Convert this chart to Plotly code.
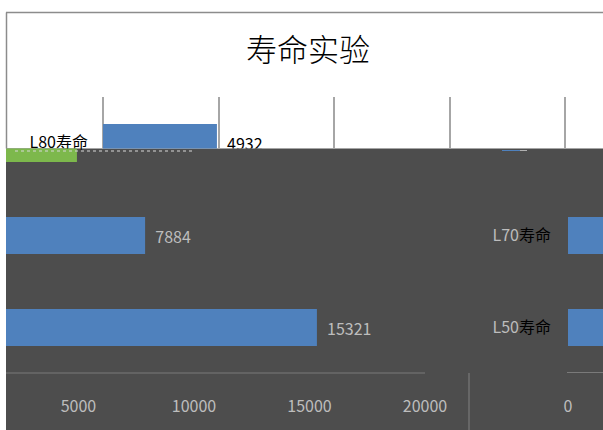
import plotly.graph_objects as go

# ---- data ----
title_text = "寿命实验"
categories = ["L80寿命", "L70寿命", "L50寿命"]
values = [4932, 7884, 15321]
tick_vals = [5000, 10000, 15000, 20000]
tick_text = ["5000", "10000", "15000", "20000"]

W, H = 603, 430
FONT = "Noto Sans CJK SC"
BLUE = "#4f81bd"
DARK = "#4d4d4d"
GRID = "#a6a6a6"
LIGHT = "#bdbdbd"

S = 115.5 / 5000.0  # pixels per unit
AXIS_Y = 373


def px(p):
    return p / W


def py(p):
    return 1 - p / H


cat_order = list(reversed(categories))  # L50 -> 0, L70 -> 1, L80 -> 2
# only the label that is visible in each part is kept
labels_top = [str(v) if c == categories[0] else "" for c, v in zip(categories, values)]
labels_low = ["" if c == categories[0] else str(v) for c, v in zip(categories, values)]

fig = go.Figure()

# top (white) part of the chart
fig.add_trace(go.Bar(
    x=values, y=categories, orientation="h", width=0.4,
    marker=dict(color=BLUE, line=dict(width=0)),
    text=labels_top, texttemplate="\u00a0\u00a0%{text}", textposition="outside",
    textfont=dict(family=FONT, size=16, color="#000000"),
    xaxis="x", yaxis="y", showlegend=False, hoverinfo="skip",
))

# lower (dark) part, shifted copy
fig.add_trace(go.Bar(
    x=values, y=categories, orientation="h", width=0.4,
    marker=dict(color=["#7db84c", BLUE, BLUE], line=dict(width=0)),
    text=labels_low, texttemplate="\u00a0\u00a0%{text}", textposition="outside",
    textfont=dict(family=FONT, size=16, color=LIGHT),
    xaxis="x2", yaxis="y2", showlegend=False, hoverinfo="skip",
))

# right edge copy
fig.add_trace(go.Bar(
    x=values, y=categories, orientation="h", width=0.4,
    marker=dict(color=["rgba(0,0,0,0)", BLUE, BLUE], line=dict(width=0)),
    xaxis="x3", yaxis="y3", showlegend=False, hoverinfo="skip",
))

top_y_range = [2 - (148.5 - 142.5) / 92, 2 + (142.5 - 97) / 92]
bot_y_range = [0 - (AXIS_Y - 327.5) / 92, 1 + (235.5 - 148.5) / 92]

fig.update_layout(
    width=W, height=H,
    autosize=False,
    margin=dict(l=0, r=0, t=0, b=0, pad=0, autoexpand=False),
    paper_bgcolor="#ffffff",
    plot_bgcolor="rgba(0,0,0,0)",
    font=dict(family=FONT, color="#000000"),
    title=dict(text=title_text, x=px(308), y=py(50), xanchor="center", yanchor="middle",
               automargin=False,
               font=dict(family=FONT, size=31, color="#000000", weight=300)),
    xaxis=dict(domain=[px(103), 1], range=[0, (603 - 103) / S], dtick=5000,
               showgrid=True, gridcolor=GRID, gridwidth=1.5,
               zeroline=True, zerolinecolor=GRID, zerolinewidth=1.5,
               showticklabels=False, showline=False, anchor="y", automargin=False),
    yaxis=dict(domain=[py(148.5), py(97)], range=top_y_range, type="category",
               categoryorder="array", categoryarray=cat_order,
               showgrid=False, zeroline=False, showline=False,
               tickfont=dict(family=FONT, size=16, color="#000000"),
               ticklabelstandoff=14, anchor="x", automargin=False),
    xaxis2=dict(domain=[px(6), 1], range=[(6 + 37) / S, (603 + 37) / S],
                tickmode="array", tickvals=tick_vals, ticktext=tick_text,
                showgrid=False, zeroline=False, showline=False,
                tickfont=dict(family=FONT, size=16, color=LIGHT),
                ticklabelstandoff=22, anchor="y2", automargin=False),
    yaxis2=dict(domain=[py(AXIS_Y), py(148.5)], range=bot_y_range, type="category",
                categoryorder="array", categoryarray=cat_order,
                showgrid=False, zeroline=False, showline=False,
                showticklabels=False, anchor="x2", automargin=False),
    xaxis3=dict(domain=[px(568), 1], range=[0, 35 / S],
                tickmode="array", tickvals=[0], ticktext=["0"],
                showgrid=False, zeroline=False, showline=False,
                tickfont=dict(family=FONT, size=16, color=LIGHT),
                ticklabelstandoff=22, anchor="y3", automargin=False),
    yaxis3=dict(domain=[py(AXIS_Y), py(148.5)], range=bot_y_range, type="category",
                categoryorder="array", categoryarray=cat_order,
                tickmode="array", tickvals=categories,
                ticktext=["<span style='color:%s'>%s</span>%s" % (LIGHT, c[:3], c[3:]) for c in categories],
                showgrid=False, zeroline=False, showline=False,
                tickfont=dict(family=FONT, size=16, color="#000000"),
                ticklabelstandoff=16, anchor="x3", automargin=False),
    shapes=[
        # dark band
        dict(type="rect", xref="paper", yref="paper", x0=px(6), x1=1, y0=0, y1=py(148.5),
             fillcolor=DARK, line=dict(width=0), layer="below"),
        # chart frame (top and left)
        dict(type="line", xref="paper", yref="paper", x0=px(6), x1=1, y0=py(12.5), y1=py(12.5),
             line=dict(color="#8c8c8c", width=1.5), layer="above"),
        dict(type="line", xref="paper", yref="paper", x0=px(6.5), x1=px(6.5), y0=py(148.5), y1=py(12.5),
             line=dict(color="#8c8c8c", width=1.5), layer="above"),
        # glitch rows along the band edge
        dict(type="line", xref="paper", yref="paper", x0=px(15), x1=px(193), y0=py(151), y1=py(151),
             line=dict(color="#d8d8d8", width=1, dash="dot"), layer="above"),
        dict(type="line", xref="paper", yref="paper", x0=px(502), x1=px(520), y0=py(150.5), y1=py(150.5),
             line=dict(color=BLUE, width=1), layer="above"),
        dict(type="line", xref="paper", yref="paper", x0=px(520), x1=px(527), y0=py(150.5), y1=py(150.5),
             line=dict(color="#b0b0b0", width=1), layer="above"),
        # broken axis lines in the dark band
        dict(type="line", xref="paper", yref="paper", x0=px(6), x1=px(425), y0=py(AXIS_Y), y1=py(AXIS_Y),
             line=dict(color="#7a7a7a", width=1.2), layer="above"),
        dict(type="line", xref="paper", yref="paper", x0=px(567), x1=1, y0=py(AXIS_Y - 0.5), y1=py(AXIS_Y - 0.5),
             line=dict(color="#7a7a7a", width=1.2), layer="above"),
        dict(type="line", xref="paper", yref="paper", x0=px(469), x1=px(469), y0=0, y1=py(AXIS_Y),
             line=dict(color="#7a7a7a", width=1.2), layer="above"),
    ],
)

fig.write_html("out.html", config={"displayModeBar": False},
               post_script="document.body.style.margin='0px';document.body.style.overflow='hidden';")
